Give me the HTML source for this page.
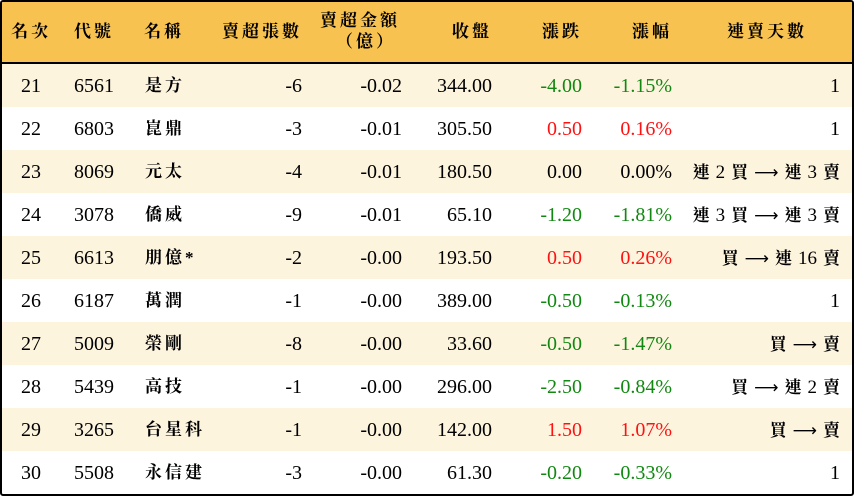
<!DOCTYPE html>
<html><head><meta charset="utf-8"><style>
body{margin:0;width:854px;height:496px;overflow:hidden;background:#fff;font-family:"Liberation Serif","Noto Serif CJK TC","Noto Serif CJK SC",serif;font-size:20px;color:#000}
.wrap{position:absolute;left:0;top:0;width:850px;height:492px;border:2px solid #000;border-radius:3px;overflow:hidden}
.hd{position:absolute;left:0;top:0;width:850px;height:60px;background:#F8C250;border-bottom:2px solid #000}
.r{position:absolute;left:0;width:850px;height:43px}
.r.a{background:#FDF4DE}
.c{position:absolute;white-space:nowrap;line-height:20px}
.cj{letter-spacing:3px;font-size:17px;font-weight:bold}
.ar{font-family:"DejaVu Sans",sans-serif;font-size:17px}
.t{margin-left:6px}
.g{color:#118811}.rd{color:#FF1111}
</style></head><body><div class="wrap" id="w"></div>
<script>
const w=document.getElementById('w');
let h='<div class="hd">';
function cell(x,y,t,al,cls){
 let st=al=='l'?`left:${x}px`:al=='r'?`right:${850-x}px`:`left:${x-100}px;width:200px;text-align:center`;
 return `<div class="c ${cls||''}" style="${st};top:${y}px">${t}</div>`;}
h+=cell(29,20,'名次','c','cj')+cell(72,20,'代號','l','cj')+cell(142,20,'名稱','l','cj')+cell(300,20,'賣超張數','r','cj')+cell(398,9,'賣超金額','r','cj')+cell(364,30,'（億）','c','cj')+cell(490,20,'收盤','r','cj')+cell(580,20,'漲跌','r','cj')+cell(670,20,'漲幅','r','cj')+cell(765,20,'連賣天數','c','cj')+'</div>';
const d=[[21,6561,'是方',-6,'-0.02','344.00','-4.00','-1.15%','1'],
[22,6803,'崑鼎',-3,'-0.01','305.50','0.50','0.16%','1'],
[23,8069,'元太',-4,'-0.01','180.50','0.00','0.00%','連 2 買 → 連 3 賣'],
[24,3078,'僑威',-9,'-0.01','65.10','-1.20','-1.81%','連 3 買 → 連 3 賣'],
[25,6613,'朋億*',-2,'-0.00','193.50','0.50','0.26%','買 → 連 16 賣'],
[26,6187,'萬潤',-1,'-0.00','389.00','-0.50','-0.13%','1'],
[27,5009,'榮剛',-8,'-0.00','33.60','-0.50','-1.47%','買 → 賣'],
[28,5439,'高技',-1,'-0.00','296.00','-2.50','-0.84%','買 → 連 2 賣'],
[29,3265,'台星科',-1,'-0.00','142.00','1.50','1.07%','買 → 賣'],
[30,5508,'永信建',-3,'-0.00','61.30','-0.20','-0.33%','1']];
function last(s){
 if(s=='1')return s;
 return s.split(' ').map((t,k)=>{const m=k?'t':'';
  return /\d/.test(t)?`<span class="${m}" style="font-size:19px">${t}</span>`:(t=='→'?`<span class="ar ${m}">⟶</span>`:`<span class="cj ${m}" style="letter-spacing:0">${t}</span>`);}).join('');
}
d.forEach((r,i)=>{
 const top=62+i*43;
 const col=r[6].startsWith('-')?'g':(r[6]=='0.00'?'':'rd');
 h+=`<div class="r ${i%2==0?'a':''}" style="top:${top}px">`+
 cell(29,12,r[0],'c')+cell(72,12,r[1],'l')+cell(143,12,r[2],'l','cj')+cell(300,12,r[3],'r')+cell(400,12,r[4],'r')+cell(490,12,r[5],'r')+cell(580,12,r[6],'r',col)+cell(670,12,r[7],'r',col)+cell(838,12,last(r[8]),'r')+'</div>';
});
w.innerHTML=h;
</script></body></html>
